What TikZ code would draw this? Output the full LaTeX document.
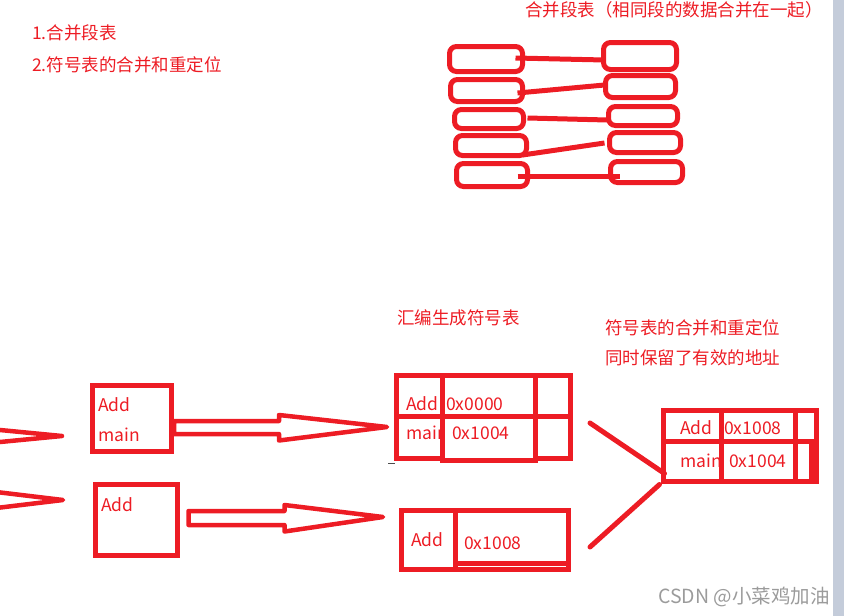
\documentclass[tikz,border=0pt]{standalone}
\usepackage{fontspec}
\setmainfont{Noto Sans CJK SC}
\usetikzlibrary{calc}
\definecolor{paintred}{HTML}{ED1C24}
\definecolor{markgray}{HTML}{9B9B9B}
\definecolor{barblue}{HTML}{C4CCDA}

\begin{document}
\begin{tikzpicture}[x=1pt, y=-1pt,
    seg/.style={draw=paintred, line width=5pt, rounded corners=7pt, inner sep=0pt},
    box/.style={draw=paintred, line width=5pt, inner sep=0pt},
    red line/.style={draw=paintred, line width=5pt},
    fat/.style={draw=paintred, line width=4.5pt, line join=round},
    lbl/.style={text=paintred, anchor=west, inner sep=0pt, font=\fontsize{17.5}{20}\selectfont}]
    \useasboundingbox (0,0) rectangle (844,616);
    \clip (0,0) rectangle (844,616);

    \node[lbl] (s1) at (32,33) {1.合并段表};
    \node[lbl] (s2) at (32,65) {2.符号表的合并和重定位};
    \node[lbl] (hd) at (525,10) {合并段表（相同段的数据合并在一起）};

    \node[seg, minimum width=73pt, minimum height=25pt] (l1) at (486,59) {};
    \node[seg, minimum width=72pt, minimum height=22pt] (l2) at (486.5,90.5) {};
    \node[seg, minimum width=69pt, minimum height=19pt] (l3) at (489,119) {};
    \node[seg, minimum width=71pt, minimum height=20pt] (l4) at (491,145.5) {};
    \node[seg, minimum width=71pt, minimum height=23pt] (l5) at (492,175) {};

    \node[seg, minimum width=73pt, minimum height=27pt] (r1) at (640,56) {};
    \node[seg, minimum width=70pt, minimum height=22pt] (r2) at (640.5,86.5) {};
    \node[seg, minimum width=69pt, minimum height=19pt] (r3) at (643,116) {};
    \node[seg, minimum width=71pt, minimum height=20pt] (r4) at (645,142.5) {};
    \node[seg, minimum width=72pt, minimum height=21pt] (r5) at (646.5,172) {};

    \draw[red line] ($(l1.east)+(-9.5,-1)$) -- ($(r1.west)+(3.5,4)$);
    \draw[red line] ($(l2.east)+(-7.5,2.5)$) -- ($(r2.west)+(1.5,-1.5)$);
    \draw[red line] ($(l3.east)+(1.5,-1)$) -- ($(r3.west)+(1.5,4)$);
    \draw[red line] ($(l4.east)+(-6.5,9.5)$) -- ($(r4.west)+(-2.5,0.5)$);
    \draw[red line] ($(l5.east)+(-12.5,1)$) -- ($(r5.west)+(11.5,4)$);

    \coordinate (p1) at (62,436);
    \coordinate (p2) at (63,500);
    \draw[fat] (-200,429) -- (-93,429) -- (-93,421) -- (p1) -- (-93,451) -- (-93,443) -- (-200,443);
    \draw[fat] (-200,492) -- (-62,492) -- (-62,485) -- (p2) -- (-62,515) -- (-62,507) -- (-200,507);

    \node[box, minimum width=79pt, minimum height=66pt] (am) at (131.5,418) {};
    \node[lbl] (amadd) at (98,405) {Add};
    \node[lbl] (ammain) at (98,435) {main};
    \node[box, minimum width=82.5pt, minimum height=70.5pt] (ad) at (136.25,519.75) {};
    \node[lbl] (adadd) at (101,505) {Add};

    \coordinate (q1) at (387,427);
    \coordinate (q2) at (383,517);
    \draw[fat] ($(am.east)+(0.5,3)$) -- (279,421) -- (279,415) -- (q1) -- (279,440.5) -- (279,434) -- ($(am.east)+(0.5,16)$) -- cycle;
    \draw[fat] ($(ad.east)+(8.5,-8.75)$) -- (284.5,511) -- (284.5,505) -- (q2) -- (284.5,531.5) -- (284.5,525) -- ($(ad.east)+(8.5,5.25)$) -- cycle;

    \node[lbl] (c1) at (397,318) {汇编生成符号表};

    \node[box, minimum width=174pt, minimum height=83pt] (t1) at (483,416.5) {};
    \node[lbl] (t1a) at (406,404) {Add};
    \node[lbl] (t1m) at (406,433) {main};
    \draw[red line, fill=white] (442,375) rectangle (535,460);
    \draw[red line] (396,416) -- (570,416);
    \node[lbl] (t1x) at (446,404) {0x0000};
    \node[lbl] (t1y) at (452,433) {0x1004};
    \draw[black!70, line width=1pt] (388,463) -- (395,463);

    \node[box, minimum width=167pt, minimum height=59pt] (t2) at (484.5,539.5) {};
    \draw[red line] (455,510) -- (455,569);
    \draw[red line] (455,563) -- (566,563);
    \node[lbl] (t2a) at (411,540) {Add};
    \node[lbl] (t2x) at (464,543) {0x1008};

    \node[lbl] (c2) at (605,328) {符号表的合并和重定位};
    \node[lbl] (c3) at (605,358) {同时保留了有效的地址};

    \node[box, minimum width=153pt, minimum height=71pt] (t3) at (739.5,445.5) {};
    \node[lbl] (t3a) at (680,428) {Add};
    \node[lbl] (t3m) at (680,461) {main};
    \draw[red line, fill=white] (721,410) rectangle (795,481);
    \draw[red line] (663,441) -- (816,441);
    \draw[red line] (811,441) -- (811,481);
    \node[lbl] (t3x) at (724,428) {0x1008};
    \node[lbl] (t3y) at (729,461) {0x1004};

    \coordinate (k1) at (590,423);
    \coordinate (k2) at (590,547);
    \draw[red line, line cap=round] (k1) -- ($(t3.south west)+(4,-10)$);
    \draw[red line, line cap=round] ($(t3.south west)+(-1,1)$) -- (k2);

    \node[lbl, text=markgray, font=\fontsize{19.5}{22}\selectfont] (wm) at (658,597) {CSDN @小菜鸡加油};
    \fill[barblue] (833,0) rectangle (844,616);
\end{tikzpicture}
\end{document}
